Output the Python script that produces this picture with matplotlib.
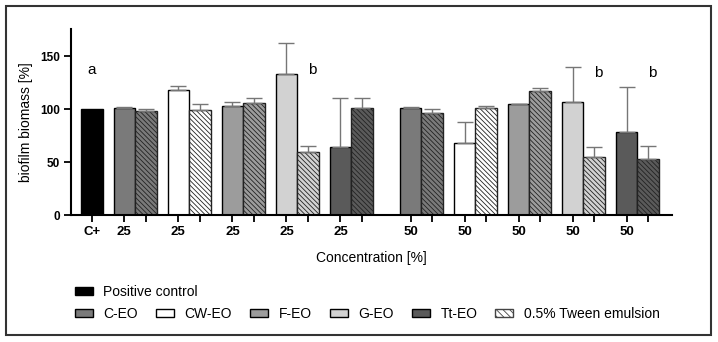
import matplotlib
matplotlib.use('Agg')
import matplotlib.pyplot as plt
from matplotlib.patches import Patch, Rectangle

plt.rcParams['font.family'] = ['Liberation Sans', 'DejaVu Sans']
plt.rcParams['hatch.linewidth'] = 0.6

# data
oils = ['C-EO', 'CW-EO', 'F-EO', 'G-EO', 'Tt-EO']
oil_colors = ['#7a7a7a', '#ffffff', '#9c9c9c', '#d2d2d2', '#5a5a5a']
control_value = 100
oil_25 = [101, 118.3, 102.8, 133, 64.4]
oil_25_err = [1.5, 3.5, 3.8, 29.5, 46]
tween_25 = [98, 99, 106, 60, 101]
tween_25_err = [2, 5.7, 5, 5.3, 9.7]
oil_50 = [101.6, 67.8, 104.7, 107.3, 78.2]
oil_50_err = [0.4, 20.5, 0, 33.1, 42.6]
tween_50 = [96.8, 101.6, 117.7, 54.6, 52.7]
tween_50_err = [3.2, 1.4, 2.8, 9.8, 12.9]
concentrations = ['25', '50']

# letters: (group index 0 = 25 / 1 = 50, oil index)
letters = [('b', 0, 3), ('b', 1, 3), ('b', 1, 4)]

fig = plt.figure(figsize=(7.18, 3.42), dpi=100)
ax = fig.add_axes([71 / 718, 1 - 215 / 342, 601 / 718, 186 / 342])

width = 1.0
group_starts = [1.5, 14.75]
hatch = '\\\\\\\\\\\\\\'
err_kw = dict(ecolor='#767676', elinewidth=1.0, capsize=5.5, capthick=1.0)

tick_pos = [0]
tick_lab = ['C+']

ax.bar(0, control_value, width, color='black', edgecolor='black', linewidth=1)

groups = [(oil_25, oil_25_err, tween_25, tween_25_err),
          (oil_50, oil_50_err, tween_50, tween_50_err)]
for g, (ov, oe, tv, te) in enumerate(groups):
    for i in range(len(oils)):
        x = group_starts[g] + 2.5 * i
        ax.bar(x, ov[i], width, color=oil_colors[i], edgecolor='black', linewidth=1,
               yerr=[[0], [oe[i]]], error_kw=err_kw, zorder=2)
        ax.bar(x + width, tv[i], width, color=oil_colors[i], edgecolor='#222222',
               linewidth=1, hatch=hatch, yerr=[[0], [te[i]]], error_kw=err_kw,
               zorder=2)
        tick_pos += [x, x + width]
        tick_lab += [concentrations[g], '']

ax.text(0, 137, 'a', ha='center', va='center', fontsize=11)
for txt, g, i in letters:
    x = group_starts[g] + 2.5 * i + width + 0.2
    ax.text(x, 137 if g == 0 else 134, txt, ha='center', va='center', fontsize=11)

ax.set_xlim(-0.97, 26.85)
ax.set_ylim(0, 176)
ax.set_yticks([0, 50, 100, 150])
ax.set_xticks(tick_pos)
ax.set_xticklabels(tick_lab, fontweight='bold', fontsize=9.5)
for lab in ax.get_yticklabels():
    lab.set_fontweight('bold')
    lab.set_fontsize(8.5)
ax.tick_params(axis='both', direction='out', length=5, width=1.3, pad=3)
ax.spines['top'].set_visible(False)
ax.spines['right'].set_visible(False)
ax.spines['left'].set_linewidth(1.5)
ax.spines['bottom'].set_linewidth(1.5)
ax.set_ylabel('biofilm biomass [%]', fontsize=10, labelpad=5)
ax.set_xlabel('Concentration [%]', fontsize=10, labelpad=9)

# legends
leg_kw = dict(frameon=False, fontsize=10, handlelength=1.3, handleheight=0.55,
              handletextpad=0.75, borderaxespad=0, borderpad=0)
h_control = [Patch(facecolor='black', edgecolor='black', label='Positive control')]
fig.legend(handles=h_control, loc='center left', bbox_to_anchor=(75 / 718, 1 - 292 / 342),
           **leg_kw)
h_oils = [Patch(facecolor=c, edgecolor='black', label=n) for n, c in zip(oils, oil_colors)]
h_oils.append(Patch(facecolor='white', edgecolor='#444444', hatch='\\\\\\\\\\',
                    label='0.5% Tween emulsion'))
fig.legend(handles=h_oils, loc='center left', bbox_to_anchor=(75 / 718, 1 - 314 / 342),
           ncol=6, columnspacing=1.3, **leg_kw)

fig.patches.append(Rectangle((6 / 718, 1 - 335 / 342), 705 / 718, 329 / 342,
                             transform=fig.transFigure, fill=False,
                             edgecolor='#333333', linewidth=1.5))

fig.savefig('out.png', dpi=100)
